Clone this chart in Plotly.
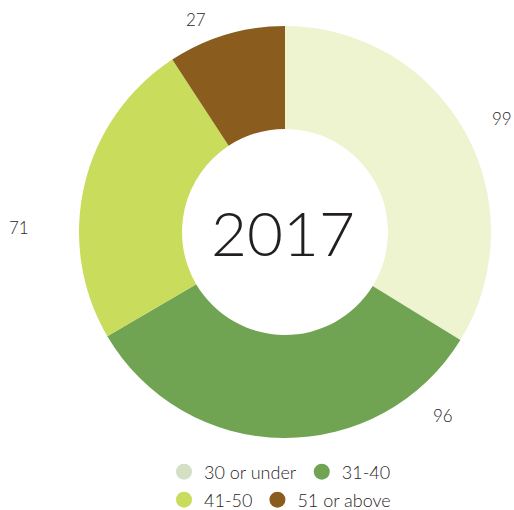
import plotly.graph_objects as go

# ---- data ----
categories = ["30 or under", "31-40", "41-50", "51 or above"]
values = [99, 96, 71, 27]
center_label = "2017"

# ---- style ----
slice_colors = ["#eef3d0", "#71a452", "#c9dc5c", "#8a5d1e"]
legend_colors = ["#d4dfc6", "#71a452", "#c9dc5c", "#8a5d1e"]
# label anchor positions in px, with horizontal anchor
label_pos = [(514, 118, "right"), (443, 415, "center"), (19, 228, "center"), (196, 20, "center")]
W, H = 514, 510
FONT = "Lato, 'Liberation Sans', Arial, sans-serif"
TXT = "#2b2627"

fig = go.Figure()

cx, cy, r = 285, 232, 206
fig.add_trace(go.Pie(
    labels=categories,
    values=values,
    hole=0.5,
    sort=False,
    direction="clockwise",
    rotation=0,
    marker=dict(colors=slice_colors, line=dict(width=0)),
    textinfo="none",
    hoverinfo="label+value",
    showlegend=False,
    domain=dict(x=[(cx - r) / W, (cx + r) / W], y=[1 - (cy + r) / H, 1 - (cy - r) / H]),
))

# legend entries (circle markers), split in two rows via two legends
for i, (cat, col) in enumerate(zip(categories, legend_colors)):
    fig.add_trace(go.Scatter(
        x=[None], y=[None], mode="markers", name=cat,
        marker=dict(color=col, size=20, symbol="circle"),
        legend="legend" if i < 2 else "legend2",
        hoverinfo="skip",
    ))

annotations = []
for v, (px, py, anc) in zip(values, label_pos):
    annotations.append(dict(
        text=str(v), x=px / W, y=1 - py / H, xref="paper", yref="paper",
        showarrow=False, xanchor=anc, yanchor="middle",
        font=dict(family=FONT, size=17, color=TXT, weight=300),
    ))
annotations.append(dict(
    text=center_label, x=(cx - 2) / W, y=1 - cy / H, xref="paper", yref="paper",
    showarrow=False, xanchor="center", yanchor="middle",
    font=dict(family=FONT, size=62, color="#231f20", weight=300),
))

legend_common = dict(
    orientation="h", xanchor="center", yanchor="middle", x=280 / W,
    font=dict(family=FONT, size=18, color=TXT, weight=300),
    bgcolor="rgba(0,0,0,0)", itemsizing="trace", itemwidth=30,
)

fig.update_layout(
    width=W, height=H,
    margin=dict(l=0, r=0, t=0, b=0, autoexpand=False),
    paper_bgcolor="white", plot_bgcolor="white",
    xaxis=dict(visible=False), yaxis=dict(visible=False),
    annotations=annotations,
    legend=dict(y=1 - 472 / H, **legend_common),
    legend2=dict(y=1 - 500 / H, **legend_common),
)

fig.write_html("out.html", config={"displayModeBar": False},
               post_script="document.body.style.margin='0';document.body.style.overflow='hidden';")
